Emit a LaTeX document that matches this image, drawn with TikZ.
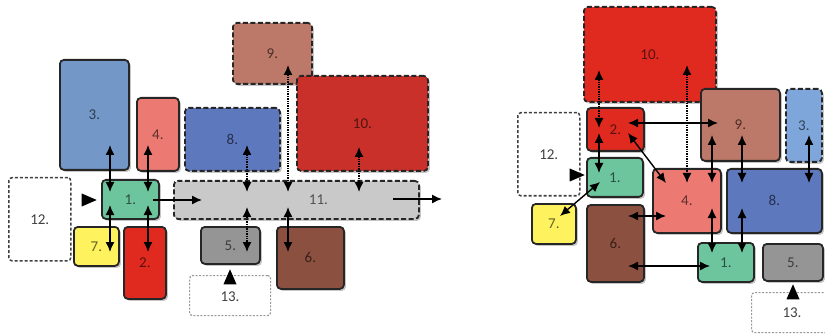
\documentclass[tikz,border=0pt]{standalone}
\usepackage{fontspec}
\setmainfont{Carlito}
\usetikzlibrary{shapes.geometric,arrows.meta,shadows}

\definecolor{cblue}{HTML}{7397C6}
\definecolor{clblue}{HTML}{7EA6DA}
\definecolor{cdblue}{HTML}{5E78BE}
\definecolor{cpink}{HTML}{EC7A72}
\definecolor{cgreen}{HTML}{6CC59D}
\definecolor{cgray}{HTML}{C9C9C9}
\definecolor{cdgray}{HTML}{959595}
\definecolor{cyellow}{HTML}{FEF35E}
\definecolor{cred}{HTML}{E02A20}
\definecolor{cdred}{HTML}{C9302A}
\definecolor{cbrown}{HTML}{8C5040}
\definecolor{ctan}{HTML}{BC7868}

\tikzset{
  bx/.style={draw=black!85, line width=1.8pt, rounded corners=4pt, anchor=north west,
    inner sep=0pt, fill=#1, text=#1!40!black,
    drop shadow={opacity=0.45, shadow xshift=2pt, shadow yshift=-2pt}},
  dbx/.style={bx=#1, dash pattern=on 5pt off 2.5pt},
  nbx/.style={draw=black!75, line width=1.5pt, dash pattern=on 3pt off 2pt,
    rounded corners=3pt, anchor=north west, inner sep=0pt, fill=white, text=black!75},
  lnk/.style={<->, line width=1.4pt},
  dlnk/.style={lnk, dash pattern=on 1.4pt off 1pt},
  tri/.style={isosceles triangle, isosceles triangle stretches, fill=black, inner sep=0pt,
    minimum width=13pt, minimum height=15pt}
}

\begin{document}
\begin{tikzpicture}[x=1pt, y=-1pt, >={Latex[length=10pt,width=9pt]},
  font=\fontsize{15}{18}\selectfont]
  \useasboundingbox (0,0) rectangle (825,334);

  % left layout
  \node[bx=cblue, minimum width=69pt, minimum height=110pt] (b3) at (59,59) {3.};
  \node[bx=cpink, minimum width=42pt, minimum height=73pt] (b4) at (136,97) {4.};
  \node[dbx=cdblue, minimum width=95pt, minimum height=63pt] (b8) at (184,107) {8.};
  \node[dbx=ctan, minimum width=79pt, minimum height=61pt] (b9) at (232,22) {9.};
  \node[dbx=cdred, minimum width=131pt, minimum height=95pt] (b10) at (296,75) {10.};
  \node[nbx, minimum width=62pt, minimum height=83pt] (b12) at (8,177) {12.};
  \node[bx=cgreen, minimum width=57pt, minimum height=39pt] (b1) at (101,179) {1.};
  \node[dbx=cgray, minimum width=245pt, minimum height=38pt,
    label={[xshift=22pt, text=cgray!40!black]center:11.}] (b11) at (173,180) {};
  \node[bx=cyellow, minimum width=45pt, minimum height=39pt] (b7) at (73,226) {7.};
  \node[bx=cred, minimum width=42pt, minimum height=72pt] (b2) at (123,226) {2.};
  \node[bx=cdgray, minimum width=59pt, minimum height=37pt] (b5) at (200,226) {5.};
  \node[bx=cbrown, minimum width=67pt, minimum height=62pt] (b6) at (276,226) {6.};
  \node[nbx, draw=black!40, line width=1.2pt, dash pattern=on 2pt off 1.5pt,
    minimum width=81pt, minimum height=40pt] (b13) at (189,275) {};
  \node[text=black!75] (t13) at (230,297) {13.};
  \node[tri] (p12) at (86,200) {};
  \node[tri, rotate=90] (p13) at (230,280) {};

  \coordinate (l3) at (110,145); \coordinate (l1a) at (110,192);
  \coordinate (l4) at (148,145); \coordinate (l1b) at (148,192);
  \coordinate (l1c) at (110,205); \coordinate (l7) at (110,252);
  \coordinate (l1d) at (148,205); \coordinate (l2) at (148,252);
  \coordinate (l1e) at (153,200); \coordinate (l11a) at (202,200);
  \coordinate (l8) at (247,145); \coordinate (l11b) at (247,192);
  \coordinate (l9) at (288,65); \coordinate (l11c) at (288,192);
  \coordinate (l10) at (359,147); \coordinate (l11d) at (359,192);
  \coordinate (l11e) at (247,207); \coordinate (l5) at (247,252);
  \coordinate (l11f) at (288,207); \coordinate (l6) at (288,252);
  \coordinate (l11g) at (393,199); \coordinate (lout) at (442,199);

  \draw[lnk] (l3)--(l1a);
  \draw[lnk] (l4)--(l1b);
  \draw[lnk] (l1c)--(l7);
  \draw[lnk] (l1d)--(l2);
  \draw[lnk, <-] (l11a)--(l1e);
  \draw[dlnk] (l8)--(l11b);
  \draw[dlnk] (l9)--(l11c);
  \draw[dlnk] (l10)--(l11d);
  \draw[dlnk] (l11e)--(l5);
  \draw[lnk] (l11f)--(l6);
  \draw[lnk, ->] (l11g)--(lout);

  % right layout
  \node[dbx=cred, minimum width=132pt, minimum height=95pt] (r10) at (583,6) {10.};
  \node[nbx, minimum width=62pt, minimum height=83pt] (r12) at (517,112) {12.};
  \node[bx=cred, minimum width=57pt, minimum height=43pt] (r2) at (586,107) {2.};
  \node[bx=ctan, minimum width=79pt, minimum height=72pt] (r9) at (700,88) {9.};
  \node[dbx=clblue, minimum width=36pt, minimum height=73pt] (r3) at (785,88) {3.};
  \node[bx=cgreen, minimum width=56pt, minimum height=39pt] (r1a) at (586,157) {1.};
  \node[bx=cpink, minimum width=68pt, minimum height=64pt] (r4) at (652,168) {4.};
  \node[bx=cdblue, minimum width=95pt, minimum height=64pt] (r8) at (726,168) {8.};
  \node[bx=cyellow, minimum width=44pt, minimum height=40pt] (r7) at (531,203) {7.};
  \node[bx=cbrown, minimum width=57pt, minimum height=77pt] (r6) at (586,204) {6.};
  \node[bx=cgreen, minimum width=56pt, minimum height=39pt] (r1b) at (697,242) {1.};
  \node[bx=cdgray, minimum width=60pt, minimum height=37pt] (r5) at (762,243) {5.};
  \node[nbx, draw=black!40, line width=1.2pt, dash pattern=on 2pt off 1.5pt,
    minimum width=82pt, minimum height=40pt] (r13) at (751,292) {};
  \node[text=black!75] (s13) at (792,313) {13.};
  \node[tri] (q12) at (574,175) {};
  \node[tri, rotate=90] (q13) at (793,295) {};

  \coordinate (m10a) at (599,70); \coordinate (m2a) at (599,128);
  \coordinate (m10b) at (687,65); \coordinate (m4a) at (687,183);
  \coordinate (m2b) at (599,133); \coordinate (m1a) at (599,173);
  \coordinate (m2c) at (628,123); \coordinate (m9a) at (718,123);
  \coordinate (m2d) at (628,133); \coordinate (m4b) at (666,183);
  \coordinate (m1b) at (600,182); \coordinate (m7) at (560,216);
  \coordinate (m9b) at (712,135); \coordinate (m4c) at (712,183);
  \coordinate (m9c) at (742,135); \coordinate (m8a) at (742,183);
  \coordinate (m3) at (809,135); \coordinate (m8b) at (809,183);
  \coordinate (m6a) at (628,216); \coordinate (m4d) at (666,216);
  \coordinate (m6b) at (628,266); \coordinate (m1c) at (710,266);
  \coordinate (m4e) at (712,208); \coordinate (m1d) at (712,253);
  \coordinate (m8c) at (742,208); \coordinate (m1e) at (742,253);

  \draw[dlnk] (m10a)--(m2a);
  \draw[dlnk] (m10b)--(m4a);
  \draw[lnk] (m2b)--(m1a);
  \draw[lnk] (m2c)--(m9a);
  \draw[lnk] (m2d)--(m4b);
  \draw[lnk] (m1b)--(m7);
  \draw[lnk] (m9b)--(m4c);
  \draw[lnk] (m9c)--(m8a);
  \draw[lnk] (m3)--(m8b);
  \draw[lnk] (m6a)--(m4d);
  \draw[lnk] (m6b)--(m1c);
  \draw[lnk] (m4e)--(m1d);
  \draw[lnk] (m8c)--(m1e);
\end{tikzpicture}
\end{document}
